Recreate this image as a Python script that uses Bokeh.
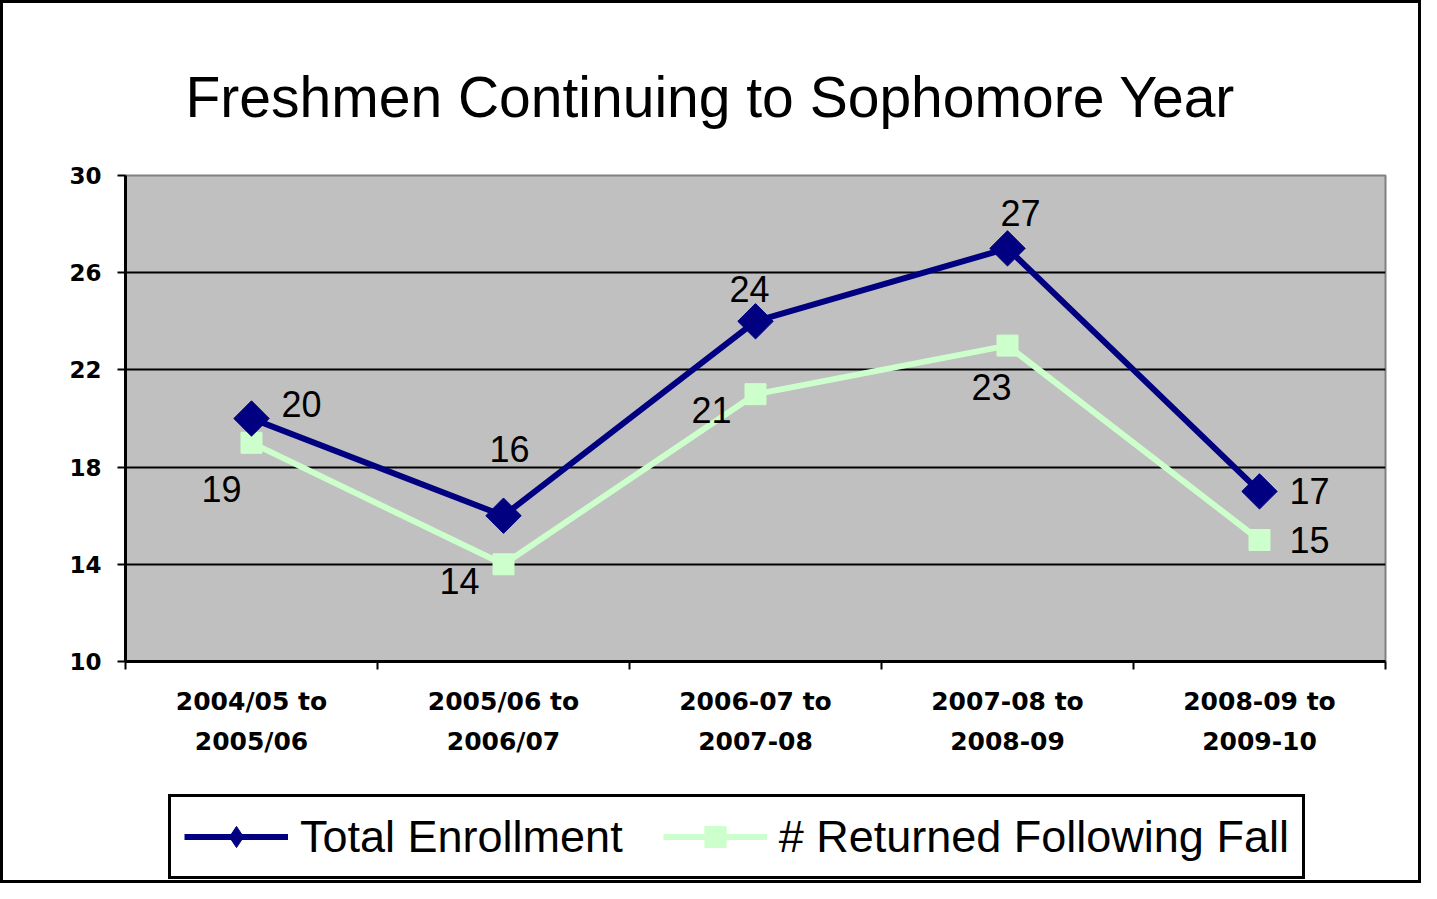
import math
from bokeh.plotting import figure
from bokeh.layouts import column
from bokeh.models import FixedTicker, Legend, LegendItem, Range1d
from bokeh.embed import file_html
from bokeh.resources import INLINE
from bokeh.core.properties import value

chart_title = "Freshmen Continuing to Sophomore Year"
categories = ["2004/05 to\n2005/06", "2005/06 to\n2006/07", "2006-07 to\n2007-08",
              "2007-08 to\n2008-09", "2008-09 to\n2009-10"]
total_enrollment = [20, 16, 24, 27, 17]
returned_following_fall = [19, 14, 21, 23, 15]
y_ticks = [10, 14, 18, 22, 26, 30]
series_names = ["Total Enrollment", "# Returned Following Fall"]

# data-label offsets in screen pixels (style only)
total_dx = [50, 6, -6, 13, 50]
total_dy = [-15, -67, -32, -35, 0]
returned_dx = [-30, -44, -44, -16, 50]
returned_dy = [46, 17, 16, 41, 0]

FONT = "Liberation Sans"
TICK_FONT = "DejaVu Sans"
NAVY = "#000080"
GREEN = "#CCFFCC"
W = 1415

xpos = [i + 0.5 for i in range(len(categories))]

p = figure(width=W, height=787,
           x_range=Range1d(0, len(categories)), y_range=Range1d(y_ticks[0], y_ticks[-1]),
           output_backend="svg", toolbar_location=None,
           min_border_left=122, min_border_right=33, min_border_top=172, min_border_bottom=129,
           background_fill_color="#C0C0C0", border_fill_color="white",
           outline_line_color="#808080", outline_line_width=2)

# title
p.title.text = chart_title
p.title.text_font = FONT
p.title.text_font_size = "57px"
p.title.text_font_style = "normal"
p.title.text_color = "black"
p.title.align = "left"
p.title.vertical_align = "top"
p.title.offset = 60
p.title.standoff = 89

# x axis
p.xaxis.ticker = FixedTicker(ticks=xpos, minor_ticks=list(range(len(categories) + 1)))
p.xaxis.major_label_overrides = {x: c for x, c in zip(xpos, categories)}
p.xaxis.major_tick_line_color = None
p.xaxis.minor_tick_line_color = "black"
p.xaxis.minor_tick_line_width = 2
p.xaxis.minor_tick_in = 0
p.xaxis.minor_tick_out = 8
p.xaxis.axis_line_color = "black"
p.xaxis.axis_line_width = 3
p.xaxis.major_label_text_font = TICK_FONT
p.xaxis.major_label_text_font_size = "25px"
p.xaxis.major_label_text_font_style = "bold"
p.xaxis.major_label_text_color = "black"
p.xaxis.major_label_text_line_height = 1.4
p.xaxis.major_label_standoff = 17
p.xgrid.visible = False

# y axis
p.yaxis.ticker = FixedTicker(ticks=y_ticks)
p.yaxis.minor_tick_line_color = None
p.yaxis.major_tick_in = 0
p.yaxis.major_tick_out = 8
p.yaxis.major_tick_line_width = 2
p.yaxis.major_tick_line_color = "black"
p.yaxis.axis_line_color = "black"
p.yaxis.axis_line_width = 3
p.yaxis.major_label_text_font = TICK_FONT
p.yaxis.major_label_text_font_size = "23px"
p.yaxis.major_label_text_font_style = "bold"
p.yaxis.major_label_text_color = "black"
p.yaxis.major_label_standoff = 16
p.ygrid.grid_line_color = "black"
p.ygrid.grid_line_width = 2

# series
p.line(xpos, returned_following_fall, line_color=GREEN, line_width=6)
p.scatter(xpos, returned_following_fall, marker="square", size=21,
          fill_color=GREEN, line_color=GREEN)
p.line(xpos, total_enrollment, line_color=NAVY, line_width=6)
p.scatter(xpos, total_enrollment, marker="square", angle=math.pi / 4, size=25,
          fill_color=NAVY, line_color=NAVY)

# data labels
p.text(xpos, total_enrollment, text=[str(v) for v in total_enrollment],
       x_offset=total_dx, y_offset=total_dy, text_align="center", text_baseline="middle",
       text_font=value(FONT), text_font_size=value("36px"), text_color="black")
p.text(xpos, returned_following_fall, text=[str(v) for v in returned_following_fall],
       x_offset=returned_dx, y_offset=returned_dy, text_align="center", text_baseline="middle",
       text_font=value(FONT), text_font_size=value("36px"), text_color="black")

# legend strip (own figure so the legend is not clipped by the chart frame)
q = figure(width=W, height=90, x_range=Range1d(0, len(categories)),
           y_range=Range1d(y_ticks[0], y_ticks[-1]),
           output_backend="svg", toolbar_location=None,
           x_axis_type=None, y_axis_type=None, min_border=0,
           outline_line_color=None, background_fill_color="white", border_fill_color="white")
q.xgrid.visible = False
q.ygrid.visible = False
ql1 = q.line(xpos, total_enrollment, line_color=NAVY, line_width=6, visible=False)
qs1 = q.scatter(xpos, total_enrollment, marker="diamond", size=30,
                fill_color=NAVY, line_color=NAVY, visible=False)
ql2 = q.line(xpos, returned_following_fall, line_color=GREEN, line_width=6, visible=False)
qs2 = q.scatter(xpos, returned_following_fall, marker="square", size=21,
                fill_color=GREEN, line_color=GREEN, visible=False)

legend = Legend(items=[LegendItem(label=series_names[0], renderers=[ql1, qs1]),
                       LegendItem(label=series_names[1], renderers=[ql2, qs2])],
                orientation="horizontal", location=(43, 1),
                border_line_color="black", border_line_width=3, border_line_alpha=1,
                background_fill_color="white", background_fill_alpha=1,
                inactive_fill_alpha=0,
                label_text_font=FONT, label_text_font_size="45px", label_text_color="black",
                glyph_width=104, glyph_height=53, label_standoff=12, spacing=40,
                padding=13, margin=0)
q.add_layout(legend)

layout = column(p, q, spacing=0, styles={"border": "3px solid black"})

open("out.html", "w").write(file_html(layout, INLINE))
